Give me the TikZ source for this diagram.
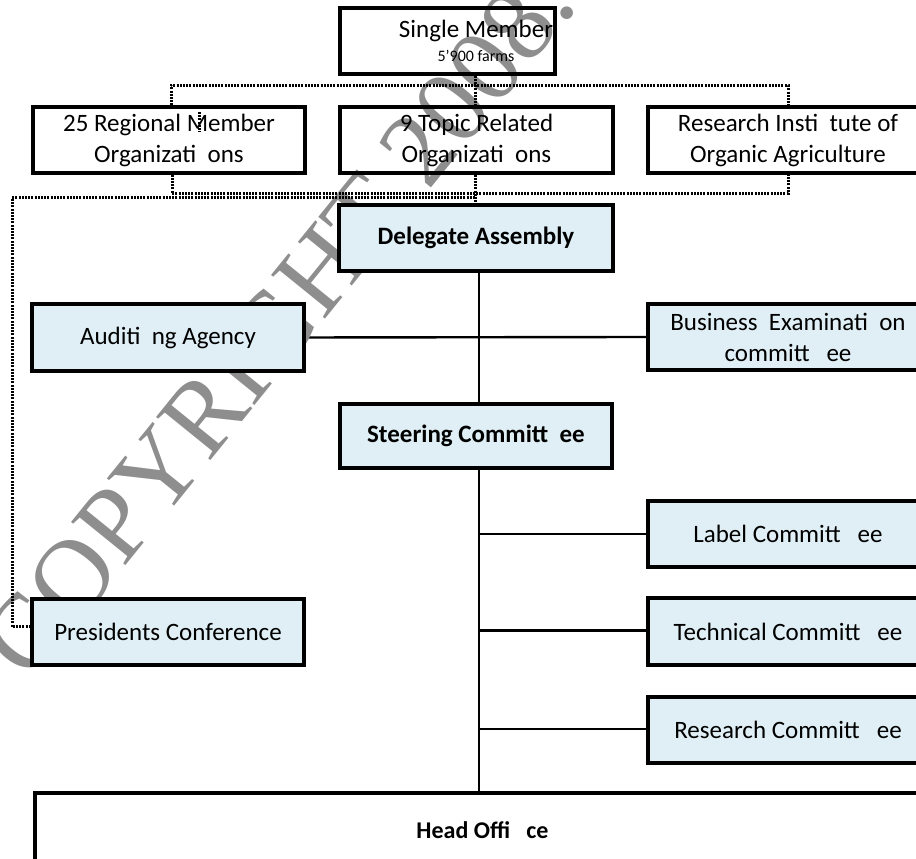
\documentclass[tikz,border=0pt]{standalone}
\usepackage{fontspec}
\setmainfont{Carlito}
\newfontfamily\wmfont{Liberation Serif}
\usetikzlibrary{backgrounds}
\definecolor{boxblue}{HTML}{DFEFF5}
\definecolor{wmgray}{HTML}{8E8E8E}
\begin{document}
\begin{tikzpicture}[x=1pt,y=1pt,
  orgbox/.style={draw=black, line width=3.2pt, minimum height=66pt, inner sep=0pt, align=center, font=\fontsize{25}{31}\selectfont},
  bluebox/.style={orgbox, fill=boxblue},
  boldbox/.style={bluebox, font=\fontsize{25}{31}\selectfont\bfseries},
  solidline/.style={line width=2.4pt},
  dotline/.style={line width=3pt, dash pattern=on 2pt off 1.2pt},
  watermark/.style={text=wmgray, font=\wmfont\fontsize{106}{110}\selectfont, inner sep=0pt}]
\useasboundingbox (0,0) rectangle (916,859);
\clip (0,0) rectangle (916,859);
% watermark
\node[watermark, rotate=51] (wm) at (278,536) {COPYRIGHT 2008.};
% boxes
\node[orgbox, minimum width=215pt] (single) at (447.5,818) {\hspace*{57pt}Single Member\\[-7pt]\hspace*{57pt}{\fontsize{16}{18}\selectfont 5'900 farms}};
\node[orgbox, minimum width=272pt] (regional) at (169,719) {25 Regional Member\\Organizati\ \ ons};
\node[orgbox, minimum width=273pt] (topic) at (476.5,719) {9 Topic Related\\Organizati\ \ ons};
\node[orgbox, minimum width=280pt] (resinst) at (788,719) {Research Insti\ \ tute of\\Organic Agriculture};
\node[boldbox, minimum width=274pt] (delegate) at (476,621) {Delegate Assembly};
\node[bluebox, minimum width=272pt, minimum height=67pt] (auditing) at (168,521.5) {Auditi\ \ ng Agency};
\node[bluebox, minimum width=280pt] (business) at (788,522) {Business\ \ Examinati\ \ on\\committ\ \ \ ee};
\node[boldbox, minimum width=272pt, minimum height=64pt] (steering) at (476,423) {Steering Committ\ \ ee};
\node[bluebox, minimum width=280pt] (label) at (788,325) {Label Committ\ \ \ ee};
\node[bluebox, minimum width=280pt, minimum height=67pt] (technical) at (788,227.5) {Technical Committ\ \ \ ee};
\node[bluebox, minimum width=280pt] (rescom) at (788,129) {Research Committ\ \ \ ee};
\node[bluebox, minimum width=272pt] (presidents) at (168,227) {Presidents Conference};
\node[orgbox, minimum width=895pt, minimum height=74pt, font=\fontsize{24}{28}\selectfont\bfseries] (head) at (482.5,29) {Head Offi\ \ \ ce};
\coordinate (spine) at (479,0);
\coordinate (dotl) at (12,0);
\begin{scope}[on background layer]
% solid connectors
\draw[solidline] (delegate.south -| spine) -- (head.north -| spine);
\draw[solidline] (auditing.east) -- (business.west);
\draw[solidline] (label.west -| spine) -- (label.west);
\draw[solidline] ([yshift=1pt]technical.west -| spine) -- ([yshift=1pt]technical.west);
\draw[solidline] ([yshift=1pt]rescom.west -| spine) -- ([yshift=1pt]rescom.west);
\end{scope}
% dotted connectors
\coordinate (tapT) at (475,772);
\coordinate (tapB) at (475,661);
\draw[dotline] (single.south -| tapT) -- (topic.north -| tapT);
\draw[dotline] ([xshift=2pt]regional.north) -- ++(0,20) -| (resinst.north);
\draw[dotline] ([xshift=3pt]regional.south) -- ++(0,-19) -| (resinst.south);
\draw[dotline] (topic.south -| tapT) -- (delegate.north -| tapT);
\draw[dotline] (tapB) -| ([yshift=5pt]presidents.west -| dotl) -- ([yshift=5pt]presidents.west);
\draw[dotline] (199,747) -- (199,727);
\end{tikzpicture}
\end{document}
